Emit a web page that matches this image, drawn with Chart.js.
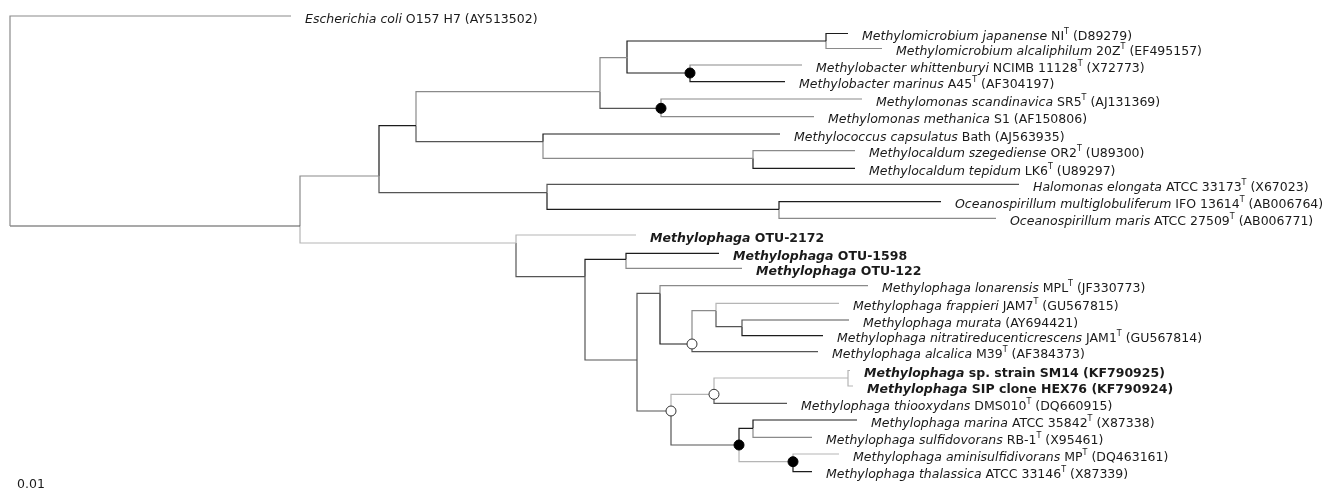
<!DOCTYPE html>
<html>
<head>
<meta charset="utf-8">
<script src="https://cdn.jsdelivr.net/npm/chart.js@4"></script>
<style>
  body { margin: 0; background: #fff; }
  #wrap { width: 1322px; height: 496px; position: relative; }
</style>
</head>
<body>
<div id="wrap"><canvas id="chart"></canvas></div>
<script>
// Tree nodes: parent index, cumulative depth (subst./site), vertical position of the branch
const nodeParent = [-1, 0, 0, 2, 2, 3, 3, 5, 5, 7, 7, 9, 9, 11, 11, 12, 12, 10, 10, 8, 8, 20, 20, 6, 6, 24, 24, 4, 4, 28, 29, 29, 28, 32, 33, 33, 35, 36, 36, 38, 38, 35, 32, 42, 43, 44, 44, 43, 42, 48, 49, 49, 48, 52, 52];
const nodeDepth = [0, 0.281, 0.290, 0.369, 0.506, 0.406, 0.537, 0.590, 0.533, 0.617, 0.651, 0.816, 0.680, 0.838, 0.872, 0.792, 0.775, 0.852, 0.804, 0.770, 0.743, 0.845, 0.845, 1.009, 0.769, 0.931, 0.986, 0.626, 0.575, 0.616, 0.709, 0.732, 0.627, 0.650, 0.858, 0.682, 0.706, 0.829, 0.732, 0.839, 0.813, 0.808, 0.661, 0.704, 0.838, 0.840, 0.843, 0.777, 0.729, 0.743, 0.847, 0.802, 0.783, 0.829, 0.802];
const nodeY = [226, 16, 226, 176, 243, 125.7, 192.7, 91.7, 141.7, 57.7, 108.3, 41, 73, 33.5, 48.5, 65, 81.7, 99, 116.7, 134, 158.3, 150.7, 168.3, 184.3, 209.3, 201.7, 218.3, 235, 276.7, 259.3, 253.3, 268.3, 360, 293.3, 285.7, 344, 310.7, 303.3, 326.7, 320, 335.7, 351.7, 411, 394.3, 378, 370.5, 386, 403.3, 445, 428.3, 420, 437.3, 461.7, 454, 471.7];
// branch shade: k black, d dark grey, g grey, l light grey
const edgeTone = ['', 'g', 'd', 'g', 'l', 'k', 'd', 'g', 'd', 'g', 'd', 'k', 'k', 'k', 'g', 'g', 'k', 'g', 'g', 'k', 'g', 'g', 'k', 'd', 'k', 'k', 'g', 'l', 'd', 'k', 'k', 'g', 'd', 'd', 'g', 'k', 'g', 'l', 'd', 'd', 'k', 'd', 'd', 'l', 'l', 'l', 'l', 'd', 'd', 'k', 'k', 'g', 'l', 'l', 'k'];

// bootstrap support markers
const filledSupport = [12, 10, 48, 52];
const openSupport = [35, 42, 43];

// leaf labels: [text, style] parts; i italic, n normal, s superscript, bi bold italic, b bold
const leafIndex = [1, 13, 14, 15, 16, 17, 18, 19, 21, 22, 23, 25, 26, 27, 30, 31, 34, 37, 39, 40, 41, 45, 46, 47, 50, 51, 53, 54];
const leafLabel = [
  [['Escherichia coli', 'i'], [' O157 H7 (AY513502)', 'n']],
  [['Methylomicrobium japanense', 'i'], [' NI', 'n'], ['T', 's'], [' (D89279)', 'n']],
  [['Methylomicrobium alcaliphilum', 'i'], [' 20Z', 'n'], ['T', 's'], [' (EF495157)', 'n']],
  [['Methylobacter whittenburyi', 'i'], [' NCIMB 11128', 'n'], ['T', 's'], [' (X72773)', 'n']],
  [['Methylobacter marinus', 'i'], [' A45', 'n'], ['T', 's'], [' (AF304197)', 'n']],
  [['Methylomonas scandinavica', 'i'], [' SR5', 'n'], ['T', 's'], [' (AJ131369)', 'n']],
  [['Methylomonas methanica', 'i'], [' S1 (AF150806)', 'n']],
  [['Methylococcus capsulatus', 'i'], [' Bath (AJ563935)', 'n']],
  [['Methylocaldum szegediense', 'i'], [' OR2', 'n'], ['T', 's'], [' (U89300)', 'n']],
  [['Methylocaldum tepidum', 'i'], [' LK6', 'n'], ['T', 's'], [' (U89297)', 'n']],
  [['Halomonas elongata', 'i'], [' ATCC 33173', 'n'], ['T', 's'], [' (X67023)', 'n']],
  [['Oceanospirillum multiglobuliferum', 'i'], [' IFO 13614', 'n'], ['T', 's'], [' (AB006764)', 'n']],
  [['Oceanospirillum maris', 'i'], [' ATCC 27509', 'n'], ['T', 's'], [' (AB006771)', 'n']],
  [['Methylophaga', 'bi'], [' OTU-2172', 'b']],
  [['Methylophaga', 'bi'], [' OTU-1598', 'b']],
  [['Methylophaga', 'bi'], [' OTU-122', 'b']],
  [['Methylophaga lonarensis', 'i'], [' MPL', 'n'], ['T', 's'], [' (JF330773)', 'n']],
  [['Methylophaga frappieri', 'i'], [' JAM7', 'n'], ['T', 's'], [' (GU567815)', 'n']],
  [['Methylophaga murata', 'i'], [' (AY694421)', 'n']],
  [['Methylophaga nitratireducenticrescens', 'i'], [' JAM1', 'n'], ['T', 's'], [' (GU567814)', 'n']],
  [['Methylophaga alcalica', 'i'], [' M39', 'n'], ['T', 's'], [' (AF384373)', 'n']],
  [['Methylophaga', 'bi'], [' sp. strain SM14 (KF790925)', 'b']],
  [['Methylophaga', 'bi'], [' SIP clone HEX76 (KF790924)', 'b']],
  [['Methylophaga thiooxydans', 'i'], [' DMS010', 'n'], ['T', 's'], [' (DQ660915)', 'n']],
  [['Methylophaga marina', 'i'], [' ATCC 35842', 'n'], ['T', 's'], [' (X87338)', 'n']],
  [['Methylophaga sulfidovorans', 'i'], [' RB-1', 'n'], ['T', 's'], [' (X95461)', 'n']],
  [['Methylophaga aminisulfidivorans', 'i'], [' MP', 'n'], ['T', 's'], [' (DQ463161)', 'n']],
  [['Methylophaga thalassica', 'i'], [' ATCC 33146', 'n'], ['T', 's'], [' (X87339)', 'n']]
];
const scaleLabel = '0.01';

const toneColor = { k: '#1c1c1c', d: '#555555', g: '#8a8a8a', l: '#b5b5b5' };
const FONT = '"DejaVu Sans", sans-serif';

// one elbow line per branch: along the parent's vertical, then across to the child
const datasets = [];
for (let i = 1; i < nodeParent.length; i++) {
  const p = nodeParent[i];
  datasets.push({
    data: [
      { x: nodeDepth[p], y: nodeY[p] },
      { x: nodeDepth[p], y: nodeY[i] },
      { x: nodeDepth[i], y: nodeY[i] }
    ],
    showLine: true,
    borderColor: toneColor[edgeTone[i]],
    borderWidth: 1.2,
    pointRadius: 0,
    tension: 0,
    order: 1
  });
}
datasets.push({
  data: filledSupport.map(i => ({ x: nodeDepth[i], y: nodeY[i] })),
  showLine: false,
  pointRadius: 5,
  pointBackgroundColor: '#000',
  pointBorderColor: '#000',
  pointBorderWidth: 1,
  order: 0
});
datasets.push({
  data: openSupport.map(i => ({ x: nodeDepth[i], y: nodeY[i] })),
  showLine: false,
  pointRadius: 5,
  pointBackgroundColor: '#fff',
  pointBorderColor: '#333',
  pointBorderWidth: 1,
  order: 0
});

// draws the taxon names next to each tip and the scale label
const labelPlugin = {
  id: 'labels',
  afterDatasetsDraw(chart) {
    const ctx = chart.ctx;
    const xs = chart.scales.x, ys = chart.scales.y;
    ctx.save();
    ctx.fillStyle = '#1a1a1a';
    ctx.textBaseline = 'middle';
    leafIndex.forEach((n, k) => {
      let x = xs.getPixelForValue(nodeDepth[n]) + 14;
      const y = ys.getPixelForValue(nodeY[n]) + 3.5;
      leafLabel[k].forEach(([txt, st]) => {
        let f, dy = 0;
        if (st === 'i') f = 'italic 12.5px ' + FONT;
        else if (st === 'bi') f = 'italic bold 12.5px ' + FONT;
        else if (st === 'b') f = 'bold 12.5px ' + FONT;
        else if (st === 's') { f = '8px ' + FONT; dy = -5; }
        else f = '12.5px ' + FONT;
        ctx.font = f;
        ctx.fillText(txt, x, y + dy);
        x += ctx.measureText(txt).width;
      });
    });
    ctx.font = '12.5px ' + FONT;
    ctx.fillText(scaleLabel, 17, 485);
    ctx.restore();
  }
};

new Chart(document.getElementById('chart').getContext('2d'), {
  type: 'scatter',
  data: { datasets: datasets },
  options: {
    responsive: true,
    maintainAspectRatio: false,
    animation: false,
    layout: { padding: 0, autoPadding: false },
    scales: {
      x: { type: 'linear', min: -0.010, max: 1.312, display: false },
      y: { type: 'linear', min: 0, max: 496, reverse: true, display: false }
    },
    plugins: {
      legend: { display: false },
      tooltip: { enabled: false }
    }
  },
  plugins: [labelPlugin]
});
</script>
</body>
</html>
